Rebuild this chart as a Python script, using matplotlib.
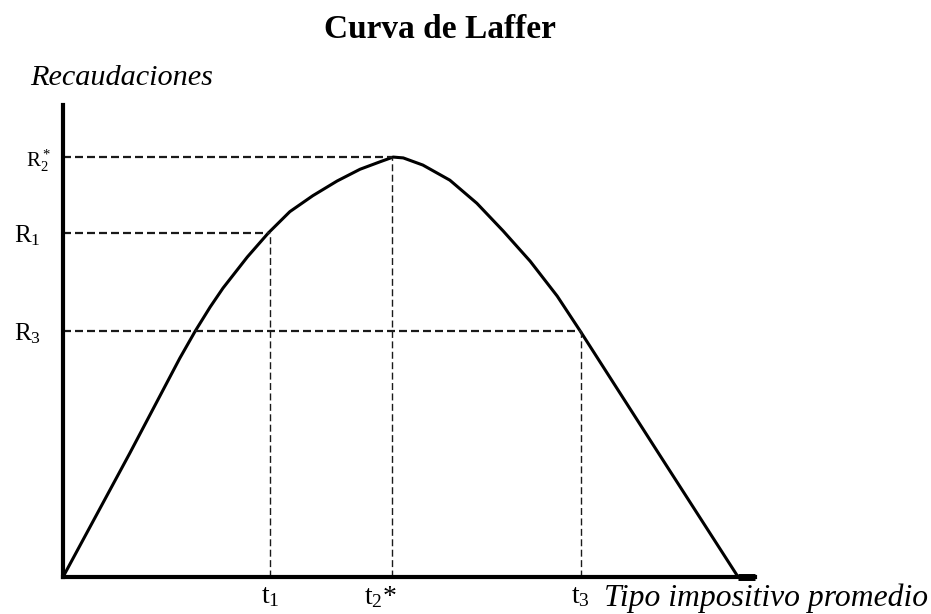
import matplotlib
matplotlib.use('Agg')
import matplotlib.pyplot as plt
from matplotlib.transforms import ScaledTranslation

plt.rcParams['font.family'] = ['Liberation Serif', 'DejaVu Serif']
plt.rcParams['mathtext.fontset'] = 'custom'
plt.rcParams['mathtext.rm'] = 'Liberation Serif'
plt.rcParams['mathtext.it'] = 'Liberation Serif:italic'

# puntos (tipo impositivo %, recaudacion relativa)
tipo = [0, 9.9, 17.3, 19.6, 21.8, 23.7, 27.3, 30.4, 33.6, 37.0, 40.6, 44.0,
        47.0, 48.9, 50.4, 53.3, 57.3, 61.3, 65.2, 69.2, 73.2, 76.6,
        82.5, 88.4, 100]
recaudacion = [0, 29.5, 52.1, 58.6, 64.3, 68.8, 76.2, 81.9, 87.0, 90.8, 94.3,
               97.1, 98.9, 100, 99.8, 98.1, 94.5, 89.0, 82.4, 75.2, 66.9,
               58.6, 43.8, 29.0, 0]

# puntos marcados
t_vals = [30.7, 48.7, 76.7]
r_vals = [81.9, 100, 58.6]
t_labels = [r'$\mathrm{t}_1$', r'$\mathrm{t}_2$*', r'$\mathrm{t}_3$']
r_labels = [r'$\mathrm{R}_1$', r'$\mathrm{R}^*_2$', r'$\mathrm{R}_3$']

fig = plt.figure(figsize=(9.31, 6.14), dpi=100)
ax = fig.add_axes([63 / 931, 37 / 614, 692 / 931, 472 / 614])
ax.set_xlim(0, 102.5)
ax.set_ylim(0, 112.4)

ax.plot(tipo, recaudacion, color='black', lw=2.2, solid_joinstyle='round')

for t, r in zip(t_vals, r_vals):
    ax.plot([0, t], [r, r], ls=(0, (3.6, 1.8)), color='#1a1a1a', lw=1.6)
    ax.plot([t, t], [0, r], ls=(0, (5, 2.5)), color='#1a1a1a', lw=1.0)

# ejes
for s in ['top', 'right']:
    ax.spines[s].set_visible(False)
ax.spines['left'].set_linewidth(3)
ax.spines['bottom'].set_linewidth(3)
ax.plot([100, 102.5], [0, 0], color='black', lw=5, clip_on=False,
        solid_capstyle='butt')

ax.set_xticks(t_vals)
ax.set_xticklabels(t_labels, fontsize=20)
ax.set_yticks(r_vals)
ax.set_yticklabels(r_labels, fontsize=18)
ax.tick_params(length=0)
ax.tick_params(axis='y', pad=16)
ax.tick_params(axis='x', pad=5)
for lbl in ax.get_yticklabels():
    if '*' in lbl.get_text():
        lbl.set_fontsize(15)
        lbl.set_transform(lbl.get_transform() +
                          ScaledTranslation(7 / 72, 0, fig.dpi_scale_trans))
for lbl in ax.get_xticklabels():
    if '*' in lbl.get_text():
        lbl.set_transform(lbl.get_transform() +
                          ScaledTranslation(-8 / 72, 0, fig.dpi_scale_trans))

fig.text(0.473, 1 - 30 / 614, 'Curva de Laffer', fontsize=24, fontweight='bold',
         ha='center', va='center')
fig.text(30 / 931, 1 - 78 / 614, 'Recaudaciones', fontsize=21.8,
         style='italic', ha='left', va='center')
fig.text(1 - 3 / 931, 1 - 598 / 614, 'Tipo impositivo promedio', fontsize=22.8,
         style='italic', ha='right', va='center')

plt.savefig('out.png', dpi=100)
